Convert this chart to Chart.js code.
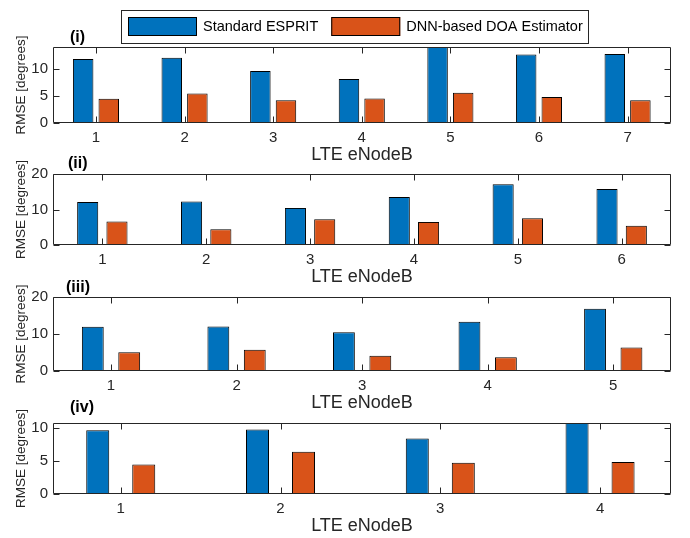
<!DOCTYPE html>
<html>
<head>
<meta charset="utf-8">
<script src="https://cdn.jsdelivr.net/npm/chart.js@4.4.1/dist/chart.umd.min.js"></script>
<style>
  html, body { margin: 0; padding: 0; background: #fff; }
  #wrap { position: relative; width: 690px; height: 538px; overflow: hidden; background: #fff; }
  #wrap canvas { position: absolute; left: 0; }
</style>
</head>
<body>
<div id="wrap"></div>
<script>
// ---- data ----
const seriesNames = ['Standard ESPRIT', 'DNN-based DOA Estimator'];
const xTitle = 'LTE eNodeB';
const yTitle = 'RMSE [degrees]';
const panelNames = ['(i)', '(ii)', '(iii)', '(iv)'];

// panel (i): 7 eNodeBs
const nodesA  = [1, 2, 3, 4, 5, 6, 7];
const espritA = [11.8, 12.0, 9.6, 8.1, 14.0, 12.6, 12.7];
const dnnA    = [4.45, 5.45, 4.2, 4.5, 5.55, 4.8, 4.2];
const yTicksA = [0, 5, 10];

// panel (ii): 6 eNodeBs
const nodesB  = [1, 2, 3, 4, 5, 6];
const espritB = [12.1, 12.25, 10.45, 13.5, 17.1, 15.75];
const dnnB    = [6.6, 4.45, 7.25, 6.5, 7.55, 5.45];
const yTicksB = [0, 10, 20];

// panel (iii): 5 eNodeBs
const nodesC  = [1, 2, 3, 4, 5];
const espritC = [11.95, 12.0, 10.5, 13.3, 16.85];
const dnnC    = [5.1, 5.75, 4.15, 3.7, 6.35];
const yTicksC = [0, 10, 20];

// panel (iv): 4 eNodeBs
const nodesD  = [1, 2, 3, 4];
const espritD = [9.65, 9.75, 8.4, 10.75];
const dnnD    = [4.45, 6.4, 4.75, 4.85];
const yTicksD = [0, 5, 10];

// ---- styling ----
const AXIS = '#262626';
const COLORS = ['#0072BD', '#D95319'];
const FONT = "'Liberation Sans', Arial, Helvetica, sans-serif";
Chart.defaults.font.family = FONT;
Chart.defaults.color = AXIS;

const PLOT_LEFT = 53;
const PLOT_RIGHT = 671;
const X_BAND = 43;

// axes box with inward tick marks on all four sides
const boxTicks = {
  id: 'boxTicks',
  afterDatasetsDraw(chart) {
    const { ctx, chartArea: a, scales: { x, y } } = chart;
    const len = 6;
    const L = Math.round(a.left) + 0.5, R = Math.round(a.right) - 0.5;
    const T = Math.round(a.top) + 0.5, B = Math.round(a.bottom) - 0.5;
    ctx.save();
    ctx.strokeStyle = AXIS;
    ctx.lineWidth = 1;
    ctx.beginPath();
    ctx.rect(L, T, R - L, B - T);
    x.ticks.forEach(t => {
      const px = Math.round(x.getPixelForValue(t.value)) + 0.5;
      ctx.moveTo(px, B); ctx.lineTo(px, B - len);
      ctx.moveTo(px, T); ctx.lineTo(px, T + len);
    });
    y.ticks.forEach(t => {
      const py = Math.round(y.getPixelForValue(t.value)) + 0.5;
      ctx.moveTo(L, py); ctx.lineTo(L + len, py);
      ctx.moveTo(R, py); ctx.lineTo(R - len, py);
    });
    ctx.stroke();
    ctx.restore();
  }
};

// bold sub-figure tag such as "(i)"
const panelTag = {
  id: 'panelTag',
  afterDraw(chart, args, opts) {
    if (!opts || !opts.text) return;
    const { ctx } = chart;
    ctx.save();
    ctx.font = 'bold 16px ' + FONT;
    ctx.fillStyle = '#000';
    ctx.textAlign = 'left';
    ctx.textBaseline = 'middle';
    ctx.fillText(opts.text, opts.x, opts.y);
    ctx.restore();
  }
};

// boxed legend row above the first panel
const boxLegend = {
  id: 'boxLegend',
  afterDraw(chart, args, opts) {
    if (!opts || !opts.show) return;
    const { ctx } = chart;
    ctx.save();
    ctx.font = '14.5px ' + FONT;
    const sw = 69, sh = 19, gap = 6, between = 13, pad = 6;
    let w = pad;
    chart.data.datasets.forEach((ds, i) => {
      w += sw + gap + ctx.measureText(ds.label).width + (i ? pad : between);
    });
    w = Math.round(w);
    ctx.fillStyle = '#fff';
    ctx.fillRect(opts.x, opts.y, w, opts.h);
    ctx.strokeStyle = AXIS;
    ctx.lineWidth = 1;
    ctx.strokeRect(opts.x + 0.5, opts.y + 0.5, w, opts.h);
    ctx.textBaseline = 'middle';
    ctx.textAlign = 'left';
    let cx = opts.x + pad + 1;
    const sy = opts.y + 7;
    chart.data.datasets.forEach(ds => {
      ctx.fillStyle = ds.backgroundColor;
      ctx.fillRect(cx, sy, sw, sh);
      ctx.strokeStyle = '#000';
      ctx.strokeRect(cx + 0.5, sy + 0.5, sw - 1, sh - 1);
      ctx.fillStyle = '#000';
      const tx = cx + sw + gap;
      ctx.fillText(ds.label, tx, sy + sh / 2 + 0.5);
      cx = tx + ctx.measureText(ds.label).width + between;
    });
    ctx.restore();
  }
};

const wrap = document.getElementById('wrap');

function makePanel(p) {
  const cv = document.createElement('canvas');
  const h = p.plotBottom - p.top + X_BAND;
  cv.width = 690; cv.height = h;
  cv.style.top = p.top + 'px';
  cv.style.width = '690px'; cv.style.height = h + 'px';
  wrap.appendChild(cv);
  const xTicks = p.nodes;
  const yTicks = p.yTicks;
  return new Chart(cv, {
    type: 'bar',
    data: {
      datasets: [p.esprit, p.dnn].map((vals, i) => ({
        label: seriesNames[i],
        data: p.nodes.map((n, k) => ({ x: n, y: vals[k] })),
        backgroundColor: COLORS[i],
        borderColor: '#000',
        borderWidth: 1,
        borderSkipped: false,
        categoryPercentage: p.cat,
        barPercentage: p.bar
      }))
    },
    options: {
      responsive: false,
      animation: false,
      devicePixelRatio: 1,
      layout: { padding: { top: p.plotTop - p.top, right: 690 - PLOT_RIGHT, bottom: 0, left: 0 } },
      plugins: {
        legend: { display: false },
        tooltip: { enabled: false },
        panelTag: { text: p.tag, x: p.tagX, y: p.tagY - p.top },
        boxLegend: p.legend ? Object.assign({ show: true }, p.legend) : { show: false }
      },
      scales: {
        x: {
          type: 'linear',
          offset: false,
          min: p.xMin,
          max: p.xMax,
          grid: { display: false, drawTicks: false, offset: false },
          border: { display: false },
          afterBuildTicks(s) { s.ticks = xTicks.map(v => ({ value: v })); },
          ticks: { font: { size: 15 }, color: AXIS, padding: 6, maxRotation: 0, autoSkip: false,
                   callback: v => String(v) },
          title: { display: true, text: xTitle, font: { size: 18 }, color: AXIS, padding: 0 },
          afterFit(s) { s.height = X_BAND; }
        },
        y: {
          min: 0,
          max: p.yMax,
          grid: { display: false, drawTicks: false },
          border: { display: false },
          ticks: { font: { size: 15 }, color: AXIS, padding: 5 },
          afterBuildTicks(s) { s.ticks = yTicks.map(v => ({ value: v })); },
          title: { display: true, text: yTitle, font: { size: 13.5 }, color: AXIS, padding: { top: 13, bottom: 0 } },
          afterFit(s) { s.width = PLOT_LEFT; }
        }
      }
    },
    plugins: [boxTicks, panelTag, boxLegend]
  });
}

makePanel({ top: 0, plotTop: 47, plotBottom: 123, nodes: nodesA, esprit: espritA, dnn: dnnA,
  yTicks: yTicksA, yMax: 14, xMin: 0.515, xMax: 7.49, cat: 0.578, bar: 0.8,
  tag: panelNames[0], tagX: 70, tagY: 38, legend: { x: 121, y: 10, h: 33 } });
makePanel({ top: 150, plotTop: 174, plotBottom: 245, nodes: nodesB, esprit: espritB, dnn: dnnB,
  yTicks: yTicksB, yMax: 20, xMin: 0.525, xMax: 6.475, cat: 0.564, bar: 0.72,
  tag: panelNames[1], tagX: 68, tagY: 164 });
makePanel({ top: 280, plotTop: 297, plotBottom: 371, nodes: nodesC, esprit: espritC, dnn: dnnC,
  yTicks: yTicksC, yMax: 20, xMin: 0.538, xMax: 5.46, cat: 0.58, bar: 0.6,
  tag: panelNames[2], tagX: 66, tagY: 288 });
makePanel({ top: 400, plotTop: 423, plotBottom: 494, nodes: nodesD, esprit: espritD, dnn: dnnD,
  yTicks: yTicksD, yMax: 10.75, xMin: 0.576, xMax: 4.444, cat: 0.576, bar: 0.5,
  tag: panelNames[3], tagX: 70, tagY: 408 });
</script>
</body>
</html>
